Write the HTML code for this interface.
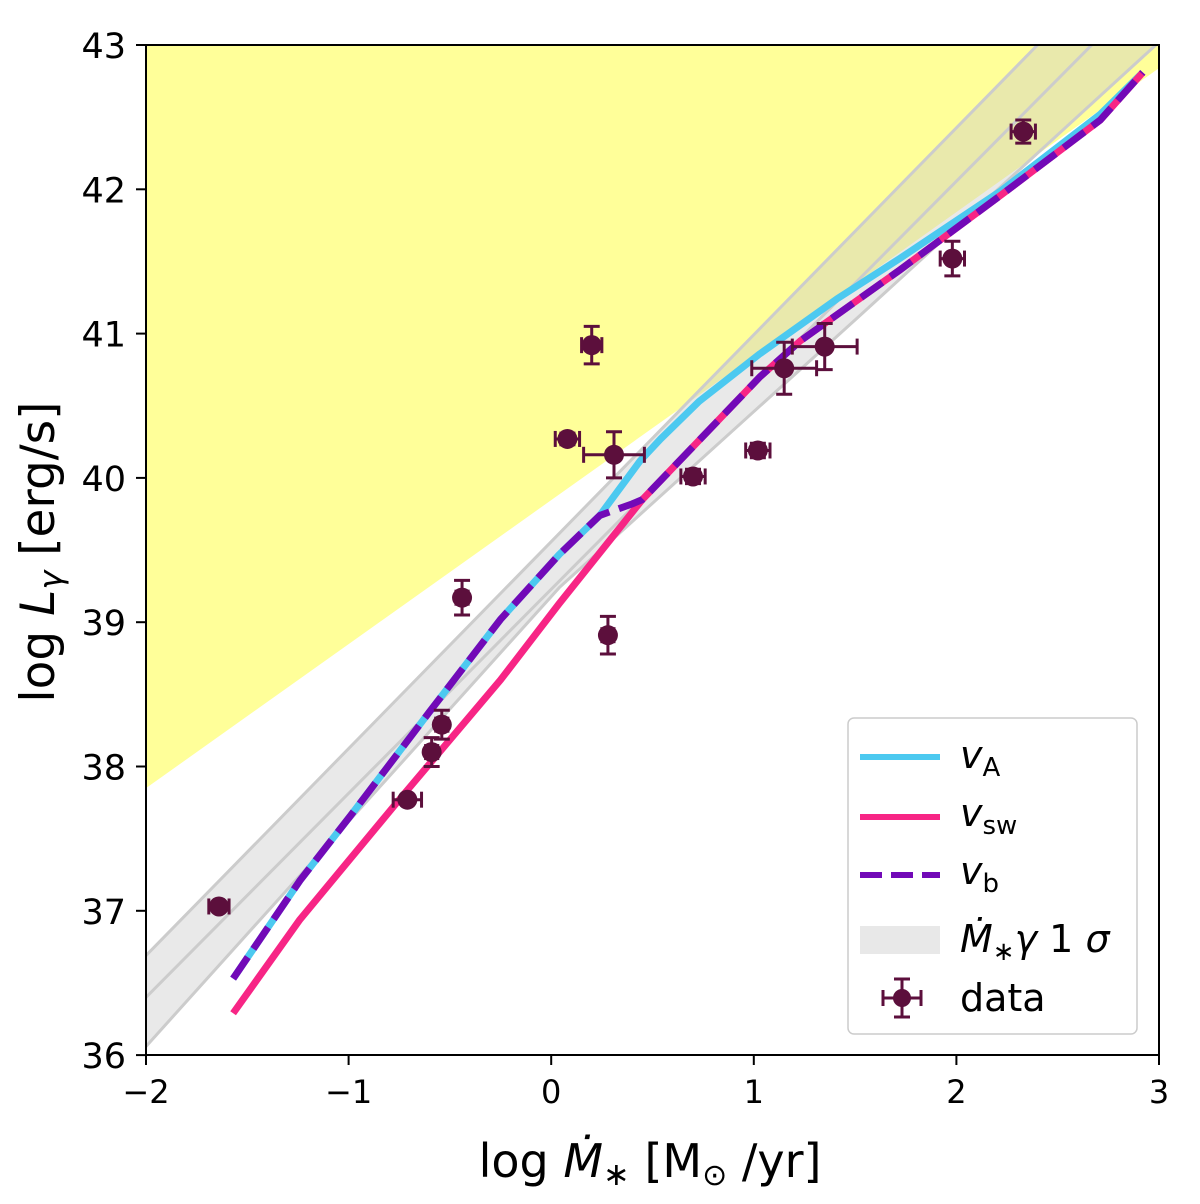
<!DOCTYPE html>
<html><head><meta charset="utf-8"><style>
body{margin:0;background:#fff;}
svg{display:block;font-family:"DejaVu Sans","Liberation Sans",sans-serif;}
</style></head><body>
<svg id="chart" width="1200" height="1204" viewBox="0 0 1200 1204" xmlns="http://www.w3.org/2000/svg">
<defs><clipPath id="clip"><rect x="146" y="45" width="1013" height="1010"/></clipPath></defs>
<g id="plot" clip-path="url(#clip)"></g>
<rect x="146" y="45" width="1013" height="1010" fill="none" stroke="#000" stroke-width="2"/>
<g id="axes"></g>
<text x="650" y="1177" font-size="46" text-anchor="middle">log <tspan font-style="italic">Ṁ</tspan><tspan font-size="32" dy="8">∗</tspan><tspan dy="-8"> [M</tspan><tspan font-size="30" dy="8">⊙</tspan><tspan dy="-8"> /yr]</tspan></text>
<text transform="translate(54,552) rotate(-90)" font-size="47" text-anchor="middle">log <tspan font-style="italic">L</tspan><tspan font-size="32" font-style="italic" dy="8">γ</tspan><tspan dy="-8"> [erg/s]</tspan></text>
<g>
<rect x="848" y="718" width="289" height="316" rx="6" fill="#fff" fill-opacity="0.85" stroke="#ccc" stroke-width="1.5"/>
<g><line x1="860" y1="757" x2="940" y2="757" stroke="#4cc9f0" stroke-width="6"/><text x="960" y="768" font-size="38" font-style="italic">v<tspan font-size="26" font-style="normal" dy="8">A</tspan></text></g>
<g><line x1="860" y1="817" x2="940" y2="817" stroke="#f72585" stroke-width="6"/><text x="960" y="826" font-size="38" font-style="italic">v<tspan font-size="26" font-style="normal" dy="8">sw</tspan></text></g>
<g><line x1="860" y1="875" x2="940" y2="875" stroke="#7209b7" stroke-width="6" stroke-dasharray="22,9"/><text x="960" y="884" font-size="38" font-style="italic">v<tspan font-size="26" font-style="normal" dy="8">b</tspan></text></g>
<g><rect x="860" y="926" width="80" height="28" fill="#e8e8e8"/><text x="960" y="952" font-size="38" font-style="italic">Ṁ<tspan font-size="26" dy="8">∗</tspan><tspan dy="-8">γ</tspan><tspan font-style="normal"> 1 </tspan>σ</text></g>
<g><line x1="883" y1="998" x2="921" y2="998" stroke="#5c0f3c" stroke-width="3"/><line x1="902" y1="979" x2="902" y2="1017" stroke="#5c0f3c" stroke-width="3"/><line x1="883" y1="990" x2="883" y2="1006" stroke="#5c0f3c" stroke-width="3"/><line x1="921" y1="990" x2="921" y2="1006" stroke="#5c0f3c" stroke-width="3"/><line x1="894" y1="979" x2="910" y2="979" stroke="#5c0f3c" stroke-width="3"/><line x1="894" y1="1017" x2="910" y2="1017" stroke="#5c0f3c" stroke-width="3"/><circle cx="902" cy="998" r="9" fill="#5c0f3c"/><text x="960" y="1011" font-size="38">data</text></g>
</g>
<script>
var xTicks=[-2,-1,0,1,2,3];
var yTicks=[36,37,38,39,40,41,42,43];
var yellowEdgeX=[-2,3];
var yellowEdgeY=[37.85,42.84];
var bandX=[-2,3];
var bandUpper=[36.69,43.86];
var bandMid=[36.40,43.47];
var lowerX=[-2,0.04,1.52,3];
var lowerY=[36.06,39.24,41.12,43.02];
var vaX=[-1.57,-1.24,-0.99,-0.60,-0.25,0.04,0.24,0.34,0.44,0.54,0.73,1.03,1.41,1.72,2.22,2.71,2.92];
var vaY=[36.53,37.21,37.66,38.38,39.02,39.47,39.74,39.93,40.12,40.27,40.53,40.86,41.24,41.52,41.99,42.52,42.81];
var vswX=[-1.57,-1.24,-0.75,-0.25,0.04,0.45,1.03,1.23,1.72,2.22,2.71,2.92];
var vswY=[36.29,36.94,37.77,38.60,39.13,39.85,40.70,40.95,41.44,41.96,42.48,42.81];
var vbX=[-1.57,-1.24,-0.99,-0.60,-0.25,0.04,0.24,0.40,0.45,1.03,1.23,1.72,2.22,2.71,2.92];
var vbY=[36.53,37.21,37.66,38.38,39.02,39.47,39.74,39.82,39.85,40.70,40.95,41.44,41.96,42.48,42.81];
var dataX=[-1.64,-0.71,-0.59,-0.54,-0.44,0.08,0.20,0.28,0.31,0.70,1.02,1.15,1.35,1.98,2.33];
var dataY=[37.03,37.77,38.10,38.29,39.17,40.27,40.92,38.91,40.16,40.01,40.19,40.76,40.91,41.52,42.40];
var dataXerr=[0.05,0.07,0.03,0.03,0.03,0.06,0.05,0.03,0.15,0.06,0.06,0.16,0.16,0.06,0.06];
var dataYerr=[0.03,0.03,0.1,0.1,0.12,0.04,0.13,0.13,0.16,0.05,0.05,0.18,0.16,0.12,0.08];

var NS='http://www.w3.org/2000/svg';
function sx(x){return 146+(x+2)*202.6;}
function sy(y){return 45+(43-y)*144.3;}
function mk(t,a,p){var e=document.createElementNS(NS,t);for(var k in a)e.setAttribute(k,a[k]);p.appendChild(e);return e;}
var plot=document.getElementById('plot'),axes=document.getElementById('axes');
function pts(xs,ys){return xs.map(function(x,i){return sx(x)+','+sy(ys[i]);}).join(' ');}

var yel=mk('polygon',{points:sx(yellowEdgeX[0])+','+sy(yellowEdgeY[0])+' '+sx(yellowEdgeX[1])+','+sy(yellowEdgeY[1])+' '+sx(3)+','+sy(44)+' '+sx(-2)+','+sy(44),fill:'#ffff99'},plot);


var lowRev=lowerX.map(function(x,i){return sx(x)+','+sy(lowerY[i]);}).reverse().join(' ');
var band=mk('polygon',{points:sx(bandX[0])+','+sy(bandUpper[0])+' '+sx(bandX[1])+','+sy(bandUpper[1])+' '+lowRev,fill:'#c8c8c8','fill-opacity':'0.4'},plot);


[bandUpper,bandMid].forEach(function(b){
  var l=mk('line',{x1:sx(bandX[0]),y1:sy(b[0]),x2:sx(bandX[1]),y2:sy(b[1]),stroke:'#cccccc','stroke-width':3},plot);
  
  
});
var lowL=mk('polyline',{points:pts(lowerX,lowerY),fill:'none',stroke:'#cccccc','stroke-width':3},plot);


var va=mk('polyline',{points:pts(vaX,vaY),fill:'none',stroke:'#4cc9f0','stroke-width':7,'stroke-linejoin':'round'},plot);


var vsw=mk('polyline',{points:pts(vswX,vswY),fill:'none',stroke:'#f72585','stroke-width':7,'stroke-linejoin':'round'},plot);


var vb=mk('polyline',{points:pts(vbX,vbY),fill:'none',stroke:'#7209b7','stroke-width':7,'stroke-dasharray':'26,10'},plot);


var col='#5c0f3c';
dataX.forEach(function(x,i){
  var g=mk('g',{},plot);
  
  
  var cx=sx(x),cy=sy(dataY[i]),ex=dataXerr[i]*202.6,ey=dataYerr[i]*144.3;
  mk('line',{x1:cx-ex,y1:cy,x2:cx+ex,y2:cy,stroke:col,'stroke-width':3},g);
  mk('line',{x1:cx,y1:cy-ey,x2:cx,y2:cy+ey,stroke:col,'stroke-width':3},g);
  [[cx-ex,cy-8,cx-ex,cy+8],[cx+ex,cy-8,cx+ex,cy+8],[cx-8,cy-ey,cx+8,cy-ey],[cx-8,cy+ey,cx+8,cy+ey]].forEach(function(c){
    mk('line',{x1:c[0],y1:c[1],x2:c[2],y2:c[3],stroke:col,'stroke-width':3},g);});
  mk('circle',{cx:cx,cy:cy,r:10,fill:col},g);
});
xTicks.forEach(function(t){
  var l=mk('line',{x1:sx(t),y1:1055,x2:sx(t),y2:1065,stroke:'#000','stroke-width':2},axes);
  
  
  var tx=mk('text',{x:sx(t),y:1103,'font-size':32,'text-anchor':'middle'},axes);
  tx.textContent=(t<0?'\u2212'+(-t):t);
  
  
});
yTicks.forEach(function(t){
  var l=mk('line',{x1:136,y1:sy(t),x2:146,y2:sy(t),stroke:'#000','stroke-width':2},axes);
  
  
  var tx=mk('text',{x:126,y:sy(t)+13,'font-size':35,'text-anchor':'end'},axes);
  tx.textContent=t;
  
  
});
</script>
</svg>
</body></html>
